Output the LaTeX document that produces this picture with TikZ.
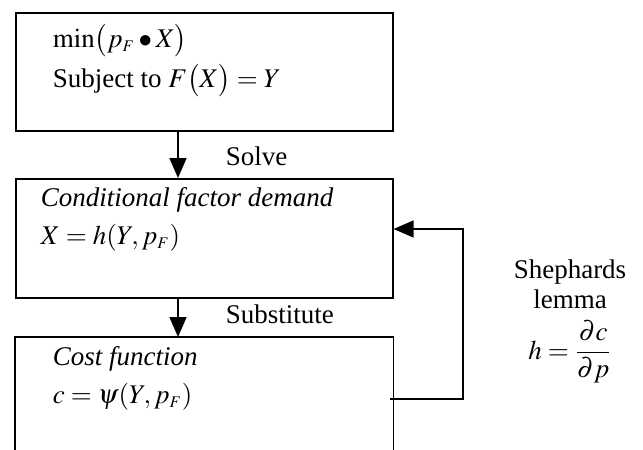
\documentclass[tikz,border=0pt]{standalone}
\usepackage{mathptmx}
\usepackage{fontspec}
\setmainfont{Liberation Serif}
\usetikzlibrary{arrows.meta}

\begin{document}
\begin{tikzpicture}
    [x=0.5pt,y=-0.5pt,line width=0.8pt,
     every node/.style={font=\fontsize{13.5}{16}\selectfont,inner sep=0pt},
     stage/.style={draw,anchor=north west,minimum width=188.5pt},
     txt/.style={anchor=base west},
     arr/.style={-{Triangle[length=10pt,width=8.5pt]}}]
    \useasboundingbox (0,0) rectangle (643,450);
    \node[stage,minimum height=59pt] (prob) at (15,12) {};
    \node[stage,minimum height=59.5pt] (cfd) at (15,178) {};
    \node[stage,draw=none,minimum height=58pt] (cost) at (15,337) {};
    \draw (cost.south west) -- (cost.north west) -- (cost.north east) -- (cost.south east);
    \node[txt] (minl) at (52,47) {$\min\bigl(p_{\scriptscriptstyle F}\bullet X\bigr)$};
    \node[txt] (subj) at (52,87) {Subject to $F\bigl(X\bigr)=Y$};
    \node[txt] (cfdl) at (40,206) {\textit{Conditional\ factor demand}};
    \node[txt] (cfdeq) at (40,244) {$X=h(Y,p_{\scriptscriptstyle F})$};
    \node[txt] (costl) at (52,365) {\textit{Cost\ function}};
    \node[txt] (costeq) at (52,403) {$c=\psi(Y,p_{\scriptscriptstyle F})$};
    \node[txt] (solve) at (225,165) {Solve};
    \node[txt] (subst) at (225,323) {Substitute};
    \node[anchor=base] (shep) at (570,278) {Shephards};
    \node[anchor=base] (lemma) at (570,308) {lemma};
    \node (shl) at (570,352) {$h=\displaystyle\frac{\partial c}{\partial p}$};
    \coordinate (fb) at (390,399);
    \draw[arr] (prob.south -| 178,0) -- (cfd.north -| 178,0);
    \draw[arr] (cfd.south -| 178,0) -- (cost.north -| 178,0);
    \draw[arr] (fb) -- (463,399) |- (cfd.east |- 0,229);
\end{tikzpicture}
\end{document}
